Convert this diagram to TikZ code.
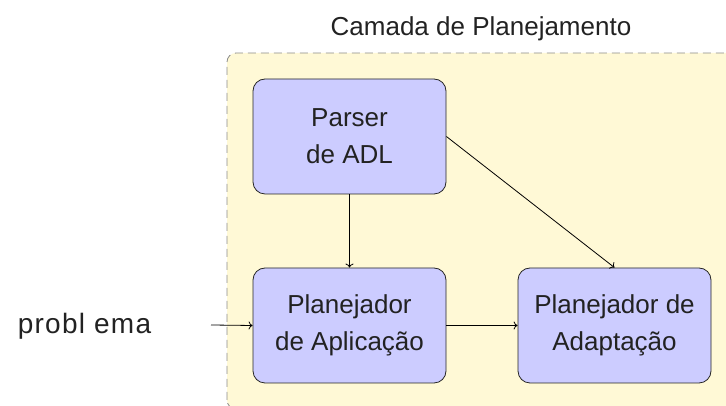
\documentclass[tikz,border=0pt]{standalone}
\usepackage{fontspec}
\setmainfont{Liberation Sans}
\usetikzlibrary{arrows.meta}
\definecolor{layerfill}{HTML}{FFF9D6}
\definecolor{boxfill}{HTML}{CCCCFF}
\definecolor{txt}{HTML}{222222}
\begin{document}
\begin{tikzpicture}[x=1pt,y=1pt,
  font=\fontsize{26}{37}\selectfont, text=txt,
  layer/.style={draw=black!45, dash pattern=on 8pt off 5pt, line width=0.8pt, fill=layerfill, rounded corners=9pt},
  block/.style={draw=black!85, line width=0.8pt, fill=boxfill, rounded corners=12pt, minimum width=193pt, minimum height=115pt, inner sep=0pt, align=center},
  arr/.style={draw=black, line width=0.8pt, -{To[length=4pt,width=8pt]}}]
\useasboundingbox (0,0) rectangle (726,406);
\begin{scope}
\clip (0,0) rectangle (726,406);
\draw[layer] (227,-3) rectangle (736,353);
\end{scope}
\node (title) at (481,377) {Camada de Planejamento};
\node[block] (parser) at (349.5,269.5) {Parser\\de ADL};
\node[block] (aplic) at (349.5,80.5) {Planejador\\de Aplicação};
\node[block] (adapt) at (614.5,80.5) {Planejador de\\Adaptação};
\node[inner sep=0pt, font=\fontsize{28}{34}\selectfont] (prob) at (84.5,80) {\addfontfeatures{LetterSpace=4.5}probl\hspace{9pt}ema};
\coordinate (pin) at (211,81);
\draw[arr] (pin) -- (aplic.west);
\draw[arr] (parser.south) -- (aplic.north);
\draw[arr] (parser.east) -- (adapt.north);
\draw[arr] (aplic.east) -- (adapt.west);
\end{tikzpicture}
\end{document}
